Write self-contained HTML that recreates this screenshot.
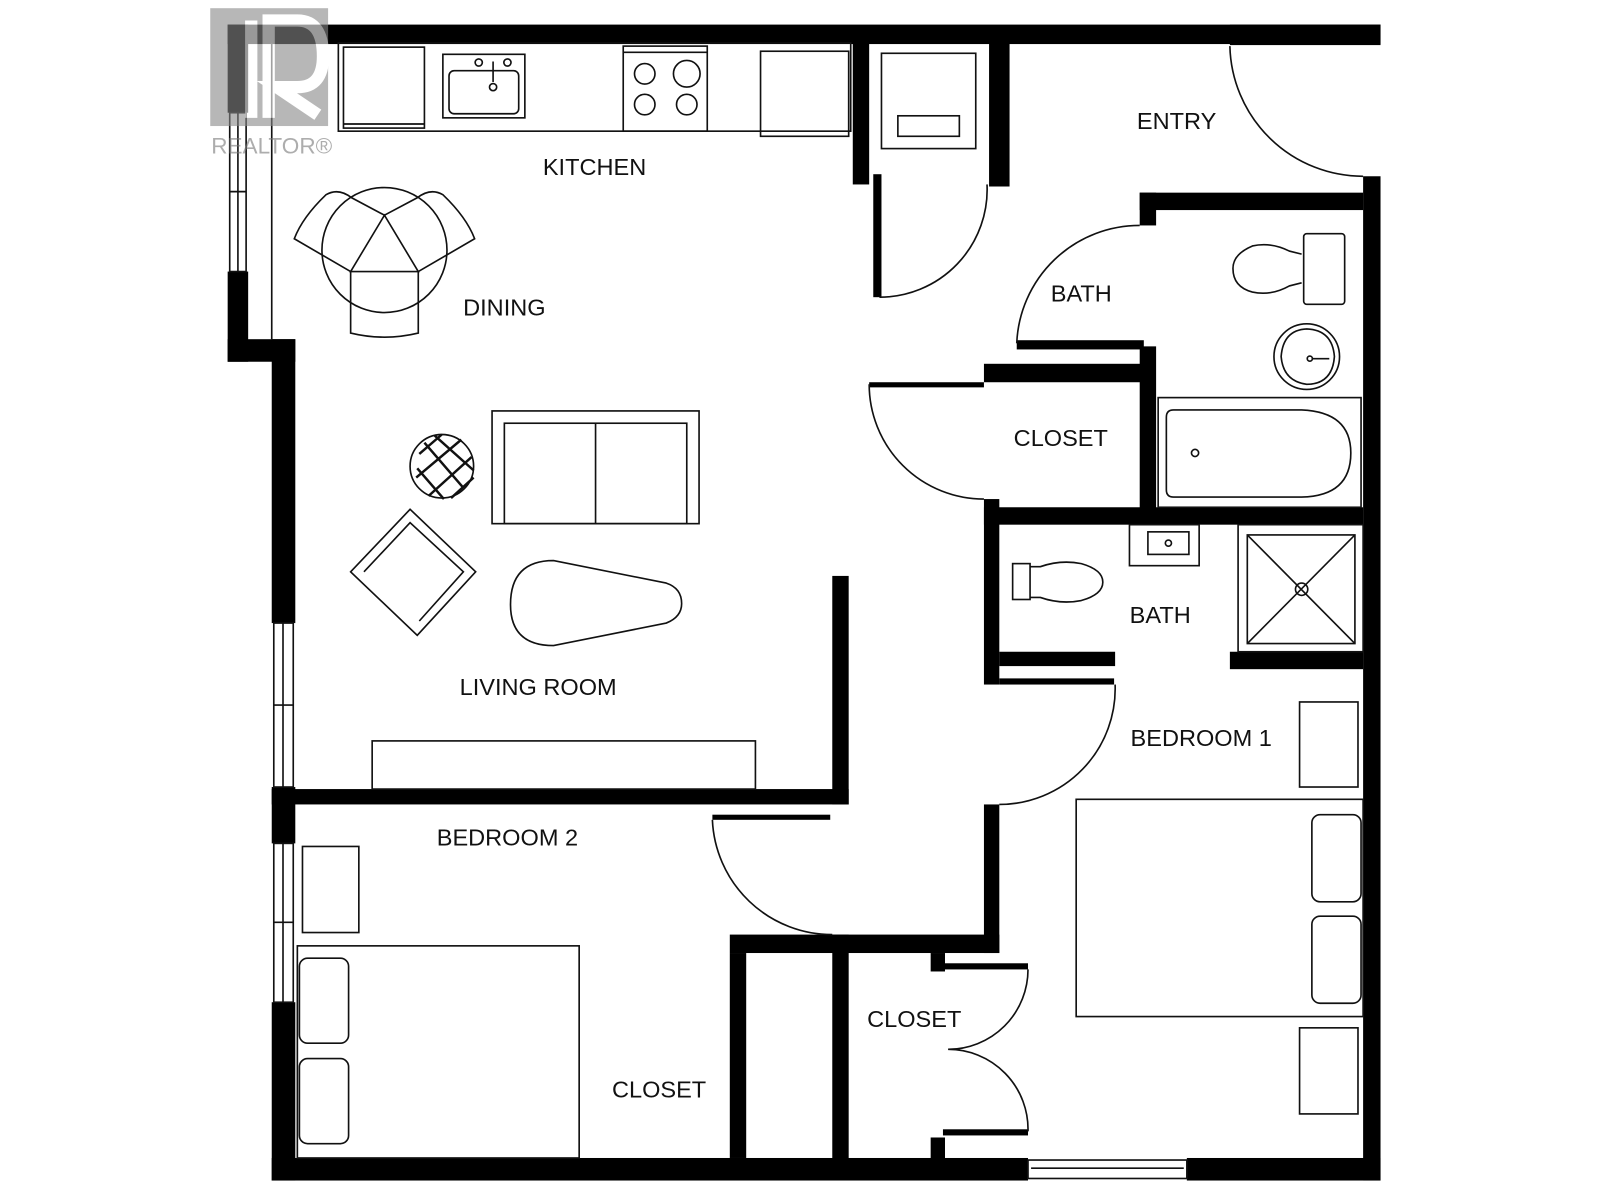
<!DOCTYPE html>
<html><head><meta charset="utf-8"><style>
html,body{margin:0;padding:0;background:#fff;}
svg{display:block;}
text{font-family:"Liberation Sans",sans-serif;font-size:23px;fill:#111;text-anchor:middle;}
</style></head><body>
<svg width="1600" height="1200" viewBox="0 0 1561 1171" xmlns="http://www.w3.org/2000/svg">
<g fill="#000">
<rect x="222" y="24" width="1125" height="19"/>
<rect x="1200" y="24" width="147" height="20"/>
<rect x="222" y="24" width="20" height="86"/>
<rect x="222" y="265" width="20" height="88"/>
<rect x="222" y="331" width="66" height="22"/>
<rect x="265" y="331" width="23" height="277"/>
<rect x="265" y="768" width="23" height="55"/>
<rect x="265" y="978" width="23" height="174"/>
<rect x="265" y="1130" width="738" height="22"/>
<rect x="1158" y="1130" width="189" height="22"/>
<rect x="1330" y="172" width="17" height="980"/>
<rect x="832" y="42" width="16" height="138"/>
<rect x="852" y="170" width="8" height="120"/>
<rect x="965" y="42" width="20" height="140"/>
<rect x="1112" y="188" width="218" height="17"/>
<rect x="1112" y="188" width="16" height="32"/>
<rect x="992" y="332" width="124" height="9"/>
<rect x="1112" y="338" width="16" height="160"/>
<rect x="848" y="373" width="112" height="5"/>
<rect x="960" y="355" width="156" height="18"/>
<rect x="960" y="487" width="15" height="181"/>
<rect x="960" y="495" width="370" height="17"/>
<rect x="975" y="636" width="113" height="14"/>
<rect x="1200" y="636" width="130" height="17"/>
<rect x="975" y="662" width="112" height="6"/>
<rect x="960" y="785" width="15" height="145"/>
<rect x="265" y="770" width="563" height="15"/>
<rect x="812" y="562" width="16" height="223"/>
<rect x="695" y="795" width="115" height="5"/>
<rect x="712" y="912" width="263" height="18"/>
<rect x="812" y="912" width="16" height="220"/>
<rect x="712" y="930" width="16" height="200"/>
<rect x="908" y="930" width="14" height="18"/>
<rect x="920" y="940" width="83" height="6"/>
<rect x="908" y="1110" width="14" height="22"/>
<rect x="920" y="1102" width="83" height="6"/>
</g>
<g fill="none" stroke="#111" stroke-width="1.6">
<rect x="224" y="110" width="16" height="155"/><line x1="232" y1="110" x2="232" y2="265"/><line x1="224" y1="187" x2="240" y2="187"/>
<line x1="265" y1="42" x2="265" y2="331"/>
<rect x="267" y="608" width="19" height="160"/><line x1="276" y1="608" x2="276" y2="768"/><line x1="267" y1="688" x2="286" y2="688"/>
<rect x="267" y="823" width="19" height="155"/><line x1="276" y1="823" x2="276" y2="978"/><line x1="267" y1="900" x2="286" y2="900"/>
<rect x="1003" y="1132" width="155" height="18"/><line x1="1006" y1="1140" x2="1155" y2="1140"/>
<path d="M1200 45 A130 130 0 0 0 1330 172"/>
<path d="M963 180 A105 105 0 0 1 858 290"/>
<path d="M1112 220 A120 120 0 0 0 992 335"/>
<path d="M848 375 A112 112 0 0 0 960 487"/>
<path d="M1088 668 A113 113 0 0 1 975 785"/>
<path d="M695 800 A117 117 0 0 0 812 912"/>
<path d="M1003 946 A78 78 0 0 1 925 1024 A78 78 0 0 1 1003 1104"/>
<!-- kitchen -->
<rect x="330" y="42" width="500" height="86"/>
<rect x="335" y="46" width="79" height="79"/><line x1="335" y1="121" x2="414" y2="121"/>
<rect x="432" y="53" width="80" height="62"/><rect x="438" y="69" width="68" height="42" rx="5"/>
<circle cx="467" cy="61" r="3.5"/><circle cx="495" cy="61" r="3.5"/><circle cx="481" cy="85" r="3.5"/><line x1="481" y1="60" x2="481" y2="80"/>
<rect x="608" y="45" width="82" height="83"/><line x1="608" y1="51" x2="690" y2="51"/>
<circle cx="629" cy="72" r="10"/><circle cx="670" cy="72" r="13"/><circle cx="629" cy="102" r="10"/><circle cx="670" cy="102" r="10"/>
<rect x="742" y="50" width="86" height="83"/>
<rect x="860" y="52" width="92" height="93"/><rect x="876" y="113" width="60" height="20"/>
<!-- dining -->
<circle cx="375" cy="244" r="61"/>
<path d="M375 210 L342 265 L408 265 Z"/>
<path d="M342 265 L342 325 Q375 333 408 325 L408 265"/>
<path d="M375 210 L343 193 Q330 183 318 190 Q295 212 287 233 L342 265"/>
<path d="M375 210 L407 193 Q420 183 432 190 Q455 212 463 233 L408 265"/>
<!-- living -->
<rect x="480" y="401" width="202" height="110"/><rect x="492" y="413" width="178" height="98"/><line x1="581" y1="413" x2="581" y2="511"/>
<circle cx="431" cy="455" r="31"/>
<path d="M409 443 L431 424 M406 466 L450 429 M418 484 L460 446 M440 486 L462 466 M414 432 L452 476 M424 425 L462 459 M407 457 L433 487" stroke-width="2.4"/>
<path d="M342 558 L400 497 L464 558 L407 620 Z"/><path d="M355 558 L400 510 L452 558 L409 606"/>
<path d="M540 547 Q498 547 498 590 Q498 630 540 630 L650 608 Q665 602 665 589 Q665 574 650 569 L540 547 Z"/>
<rect x="363" y="723" width="374" height="47"/>
<!-- upper bath -->
<rect x="1272" y="228" width="40" height="69" rx="3"/>
<path d="M1270 248 L1258 245 Q1240 236 1222 240 Q1203 248 1203 262 Q1203 280 1222 285 Q1240 289 1258 279 L1270 276"/>
<circle cx="1275" cy="348" r="32"/><path d="M1275 321 Q1300 322 1302 348 Q1300 375 1275 375 Q1252 372 1250 348 Q1252 322 1275 321 Z"/>
<line x1="1280" y1="350" x2="1297" y2="350"/><circle cx="1278" cy="350" r="2.5"/>
<rect x="1130" y="388" width="198" height="107"/>
<path d="M1145 400 L1270 400 Q1318 402 1318 442 Q1318 484 1270 485 L1145 485 Q1138 485 1138 478 L1138 407 Q1138 400 1145 400 Z"/>
<circle cx="1166" cy="442" r="3.5"/>
<!-- lower bath -->
<rect x="1102" y="512" width="68" height="40"/><rect x="1120" y="519" width="40" height="22"/><circle cx="1140" cy="530" r="3"/>
<rect x="1208" y="512" width="122" height="124"/>
<rect x="1217" y="522" width="105" height="106"/>
<line x1="1217" y1="522" x2="1322" y2="628"/><line x1="1322" y1="522" x2="1217" y2="628"/><circle cx="1270" cy="575" r="6"/>
<rect x="988" y="550" width="17" height="35"/><path d="M1005 553 L1015 553 Q1035 546 1055 550 Q1076 556 1076 568 Q1076 580 1055 586 Q1035 590 1015 583 L1005 583"/>
<!-- bedroom 1 -->
<rect x="1268" y="685" width="57" height="83"/>
<rect x="1050" y="780" width="280" height="212"/>
<rect x="1280" y="795" width="48" height="85" rx="8"/>
<rect x="1280" y="894" width="48" height="85" rx="8"/>
<rect x="1268" y="1003" width="57" height="84"/>
<!-- bedroom 2 -->
<rect x="295" y="826" width="55" height="84"/>
<rect x="290" y="923" width="275" height="207"/>
<rect x="292" y="935" width="48" height="83" rx="8"/>
<rect x="292" y="1033" width="48" height="83" rx="8"/>
</g>
<text x="580" y="171">KITCHEN</text>
<text x="492" y="308">DINING</text>
<text x="1148" y="126">ENTRY</text>
<text x="1055" y="294">BATH</text>
<text x="1035" y="435">CLOSET</text>
<text x="1132" y="608">BATH</text>
<text x="1172" y="728">BEDROOM 1</text>
<text x="525" y="678">LIVING ROOM</text>
<text x="495" y="825">BEDROOM 2</text>
<text x="892" y="1002">CLOSET</text>
<text x="643" y="1071">CLOSET</text>
<g opacity="0.6">
<rect x="205" y="8" width="115" height="115" fill="#888"/>
<path d="M245 20 L245 115 M262 115 L262 20 L290 20 Q315 20 315 55 Q315 85 290 85 L270 85 L310 112" fill="none" stroke="#fff" stroke-width="12"/>
<text x="265" y="150" style="font-size:22px;fill:#777;">REALTOR®</text>
</g>
</svg>
</body></html>
